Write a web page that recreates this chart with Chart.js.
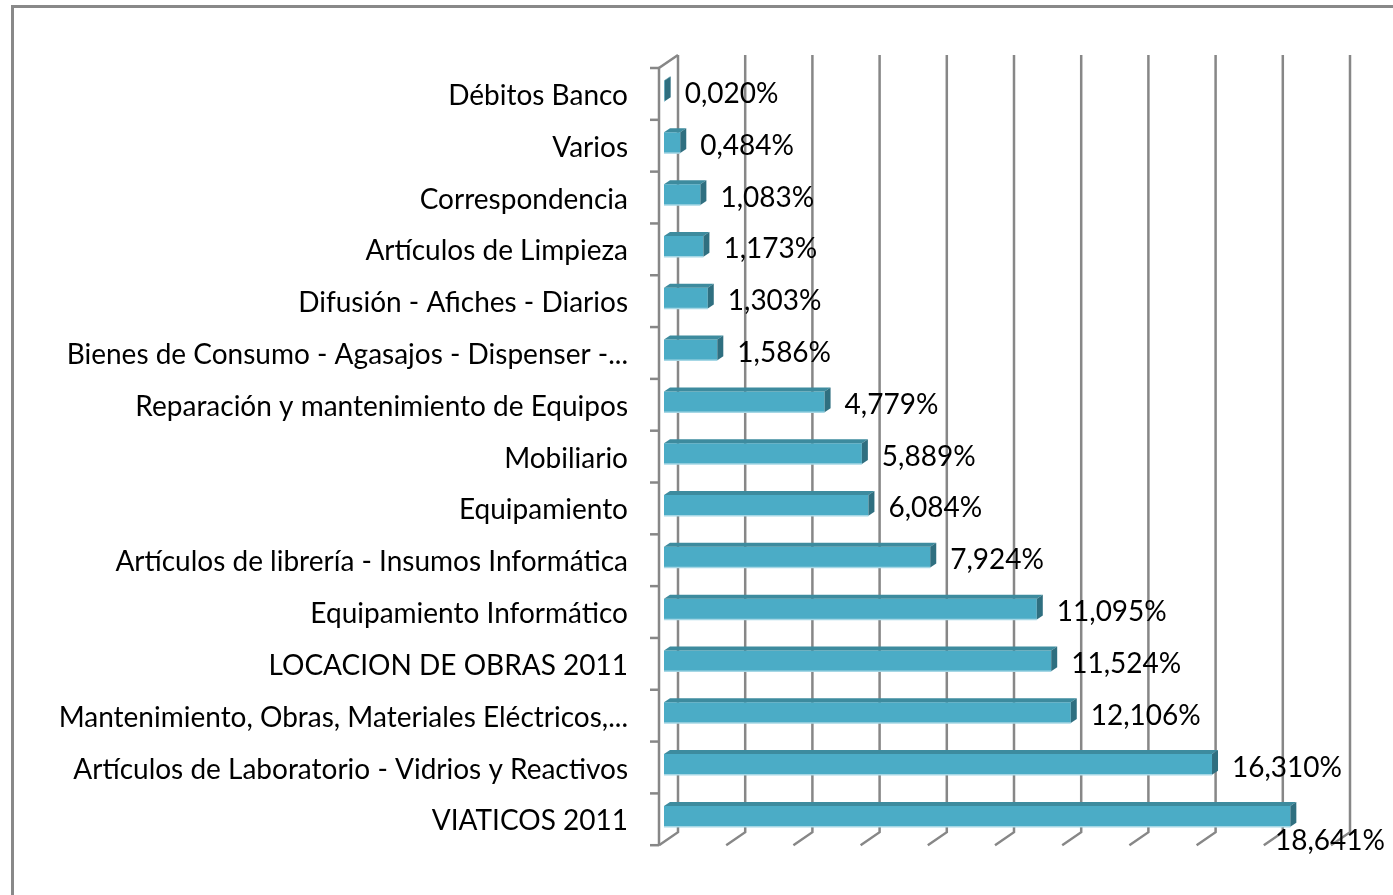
<!DOCTYPE html>
<html>
<head>
<meta charset="utf-8">
<script src="https://cdn.jsdelivr.net/npm/chart.js@4"></script>
<style>
  body { margin: 0; background: #fff; overflow: hidden; }
  #wrap { position: relative; width: 1393px; height: 895px; }
  #marco { position: absolute; left: 11px; top: 5px; width: 1400px; height: 900px;
           border-left: 3px solid #898989; border-top: 3px solid #898989; }
  canvas { position: absolute; left: 0; top: 0; }
</style>
</head>
<body>
<div id="wrap">
  <div id="marco"></div>
  <canvas id="grafico" width="1393" height="895"></canvas>
</div>
<script>
// rubros de gasto, de arriba hacia abajo
const rubros = [
    'Débitos Banco',
    'Varios',
    'Correspondencia',
    'Artículos de Limpieza',
    'Difusión - Afiches - Diarios',
    'Bienes de Consumo - Agasajos - Dispenser -...',
    'Reparación y mantenimiento de Equipos',
    'Mobiliario',
    'Equipamiento',
    'Artículos de librería - Insumos Informática',
    'Equipamiento Informático',
    'LOCACION DE OBRAS 2011',
    'Mantenimiento, Obras, Materiales Eléctricos,...',
    'Artículos de Laboratorio - Vidrios y Reactivos',
    'VIATICOS 2011'
];
const porcentajes = [0.020, 0.484, 1.083, 1.173, 1.303, 1.586, 4.779, 5.889, 6.084, 7.924, 11.095, 11.524, 12.106, 16.310, 18.641];
const marcasX = [0, 2, 4, 6, 8, 10, 12, 14, 16, 18, 20];

const fuente = 'Lato';

// paredes, piso y caras 3D de las barras
const efecto3D = {
    id: 'efecto3D',
    beforeDatasetsDraw(chart) {
        const { ctx, chartArea: a, scales: { x, y } } = chart;
        const bx = 14, by = -10;   // pared del fondo
        const fx = -5, fy = 3;     // plano del frente
        ctx.save();
        ctx.strokeStyle = '#878787';
        ctx.lineWidth = 2.5;
        marcasX.forEach(v => {
            const px = x.getPixelForValue(v);
            ctx.beginPath();
            ctx.moveTo(px + bx, a.top + by);
            ctx.lineTo(px + bx, a.bottom + by);
            ctx.lineTo(px + fx, a.bottom + fy);
            ctx.stroke();
        });
        // eje de categorias (frente) y su union con la pared
        const x0 = x.getPixelForValue(0);
        ctx.beginPath();
        ctx.moveTo(x0 + bx, a.top + by);
        ctx.lineTo(x0 + fx, a.top + fy);
        ctx.lineTo(x0 + fx, a.bottom + fy);
        ctx.stroke();
        const paso = y.getPixelForValue(1) - y.getPixelForValue(0);
        for (let i = 0; i <= rubros.length; i++) {
            const py = y.getPixelForValue(i) - paso / 2 + fy;
            ctx.beginPath();
            ctx.moveTo(x0 + fx - 9, py);
            ctx.lineTo(x0 + fx, py);
            ctx.stroke();
        }
        ctx.restore();
    },
    afterDatasetsDraw(chart) {
        const { ctx } = chart;
        const meta = chart.getDatasetMeta(0);
        const dx = 6, dy = -4;
        ctx.save();
        meta.data.forEach((barra, i) => {
            const { x: ex, y: ey, base, height } = barra.getProps(['x', 'y', 'base', 'height'], true);
            const arriba = ey - height / 2;
            const abajo = ey + height / 2;
            // cara superior
            ctx.fillStyle = '#3d8b9e';
            ctx.beginPath();
            ctx.moveTo(base, arriba);
            ctx.lineTo(ex, arriba);
            ctx.lineTo(ex + dx, arriba + dy);
            ctx.lineTo(base + dx, arriba + dy);
            ctx.closePath();
            ctx.fill();
            // cara lateral
            ctx.fillStyle = '#2f6f80';
            ctx.beginPath();
            ctx.moveTo(ex, arriba);
            ctx.lineTo(ex + dx, arriba + dy);
            ctx.lineTo(ex + dx, abajo + dy);
            ctx.lineTo(ex, abajo);
            ctx.closePath();
            ctx.fill();
            // borde claro inferior
            ctx.strokeStyle = '#a6d7e5';
            ctx.lineWidth = 1.5;
            ctx.beginPath();
            ctx.moveTo(base, abajo);
            ctx.lineTo(ex, abajo);
            ctx.stroke();

            // etiqueta de valor
            const texto = porcentajes[i].toFixed(3).replace('.', ',') + '%';
            ctx.font = '28px ' + fuente;
            ctx.fillStyle = '#000';
            ctx.textBaseline = 'middle';
            const ancho = ctx.measureText(texto).width;
            let tx = ex + 20;
            if (tx + ancho > chart.width - 4) {
                ctx.textAlign = 'right';
                ctx.fillText(texto, chart.width - 8, abajo + 14);
            } else {
                ctx.textAlign = 'left';
                ctx.fillText(texto, tx, ey + 3);
            }
        });
        ctx.restore();
    }
};

const ctx = document.getElementById('grafico').getContext('2d');
new Chart(ctx, {
    type: 'bar',
    data: {
        labels: rubros,
        datasets: [{
            data: porcentajes,
            backgroundColor: '#4bacc6',
            borderWidth: 0,
            barPercentage: 0.4,
            categoryPercentage: 1
        }]
    },
    options: {
        indexAxis: 'y',
        responsive: false,
        animation: false,
        devicePixelRatio: 1,
        layout: { padding: { top: 65, bottom: 45, right: 57, left: 0 } },
        plugins: {
            legend: { display: false },
            tooltip: { enabled: false }
        },
        scales: {
            x: {
                display: false,
                min: 0,
                max: 20
            },
            y: {
                grid: { display: false, drawTicks: false },
                border: { display: false },
                ticks: {
                    color: '#000',
                    padding: 36,
                    labelOffset: 5,
                    autoSkip: false,
                    font: { family: fuente, size: 28 }
                },
                afterFit(scale) {
                    scale.width = 664;
                }
            }
        }
    },
    plugins: [efecto3D]
});
</script>
</body>
</html>
